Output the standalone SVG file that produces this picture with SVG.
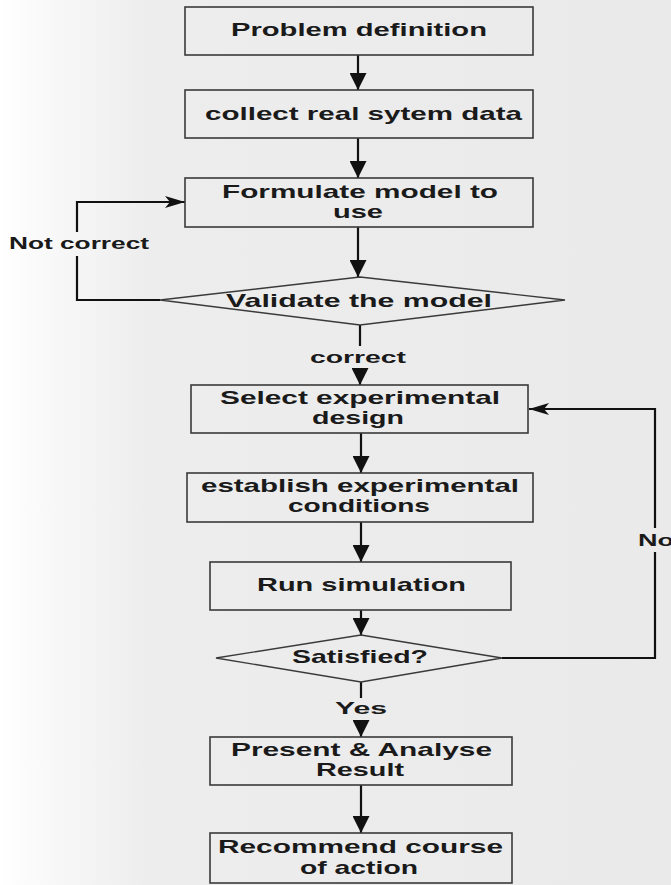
<svg xmlns="http://www.w3.org/2000/svg" width="671" height="885" viewBox="0 0 671 885">
<defs>
<linearGradient id="bg" x1="0" y1="0" x2="1" y2="0">
<stop offset="0" stop-color="#ffffff"/>
<stop offset="0.08" stop-color="#f8f8f8"/>
<stop offset="0.22" stop-color="#ededed"/>
<stop offset="1" stop-color="#eaeaea"/>
</linearGradient>
<marker id="ah" markerUnits="userSpaceOnUse" markerWidth="17" markerHeight="17" refX="17" refY="8.5" orient="auto" viewBox="0 0 17 17">
<path d="M0,0 L17,8.5 L0,17 z" fill="#111"/>
</marker>
<marker id="ahs" markerUnits="userSpaceOnUse" markerWidth="20" markerHeight="12" refX="20" refY="6" orient="auto" viewBox="0 0 20 12">
<path d="M0,0 L20,6 L0,12 L5,6 z" fill="#111"/>
</marker>
</defs>
<style>
.box{fill:none;stroke:#3a3a3a;stroke-width:1.6}
.dia{fill:none;stroke:#3a3a3a;stroke-width:1.4}
.t{font-family:"Liberation Sans",Arial,sans-serif;font-weight:bold;font-size:18.5px;fill:#1a1a1a}
.l{font-family:"Liberation Sans",Arial,sans-serif;font-weight:bold;font-size:16px;fill:#1a1a1a}
.c{fill:none;stroke:#111;stroke-width:2.2}
</style>
<rect x="0" y="0" width="671" height="885" fill="url(#bg)"/>

<g id="connectors">
<path class="c" d="M358,55 V90" marker-end="url(#ah)"/>
<path class="c" d="M358,138 V178" marker-end="url(#ah)"/>
<path class="c" d="M358,227 V277" marker-end="url(#ah)"/>
<path class="c" d="M160,300 H77 V256"/>
<path class="c" d="M77,232 V202 H185" marker-end="url(#ahs)"/>
<path class="c" d="M360,325 V346" stroke-width="1.6"/>
<path class="c" d="M360,368 V385" marker-end="url(#ah)"/>
<path class="c" d="M361,433 V473" marker-end="url(#ah)"/>
<path class="c" d="M361,522 V562" marker-end="url(#ah)"/>
<path class="c" d="M361,610 V635" marker-end="url(#ah)"/>
<path class="c" d="M502,658 H655 V552"/>
<path class="c" d="M655,528 V409 H529" marker-end="url(#ahs)"/>
<path class="c" d="M361,682 V698" stroke-width="1.6"/>
<path class="c" d="M361,720 V737" marker-end="url(#ah)"/>
<path class="c" d="M361,785 V833" marker-end="url(#ah)"/>
<text class="l" x="9" y="249" textLength="140" lengthAdjust="spacingAndGlyphs">Not correct</text>
<text class="l" x="310" y="363" textLength="96" lengthAdjust="spacingAndGlyphs">correct</text>
<text class="l" x="638" y="546" textLength="36" lengthAdjust="spacingAndGlyphs">No</text>
<text class="l" x="335" y="714" textLength="52" lengthAdjust="spacingAndGlyphs">Yes</text>
</g>

<g id="problem-definition">
<rect class="box" x="185" y="7" width="348" height="48"/>
<text class="t" x="231" y="36" textLength="256" lengthAdjust="spacingAndGlyphs">Problem definition</text>
</g>
<g id="collect-data">
<rect class="box" x="185" y="90" width="348" height="48"/>
<text class="t" x="205" y="120" textLength="317" lengthAdjust="spacingAndGlyphs">collect real sytem data</text>
</g>
<g id="formulate-model">
<rect class="box" x="185" y="178" width="348" height="49"/>
<text class="t" x="222" y="198" textLength="276" lengthAdjust="spacingAndGlyphs">Formulate model to</text>
<text class="t" x="333" y="218" textLength="50" lengthAdjust="spacingAndGlyphs">use</text>
</g>
<g id="validate-model">
<polygon class="dia" points="360,277 565,300 360,325 160,300"/>
<text class="t" x="226" y="307" textLength="266" lengthAdjust="spacingAndGlyphs">Validate the model</text>
</g>
<g id="select-design">
<rect class="box" x="191" y="385" width="337" height="48"/>
<text class="t" x="220" y="404" textLength="280" lengthAdjust="spacingAndGlyphs">Select experimental</text>
<text class="t" x="312" y="424" textLength="92" lengthAdjust="spacingAndGlyphs">design</text>
</g>
<g id="establish-conditions">
<rect class="box" x="187" y="473" width="346" height="49"/>
<text class="t" x="201" y="492" textLength="318" lengthAdjust="spacingAndGlyphs">establish experimental</text>
<text class="t" x="288" y="512" textLength="142" lengthAdjust="spacingAndGlyphs">conditions</text>
</g>
<g id="run-simulation">
<rect class="box" x="210" y="562" width="301" height="48"/>
<text class="t" x="257" y="591" textLength="209" lengthAdjust="spacingAndGlyphs">Run simulation</text>
</g>
<g id="satisfied">
<polygon class="dia" points="361,635 502,658 361,682 216,658"/>
<text class="t" x="292" y="663" textLength="136" lengthAdjust="spacingAndGlyphs">Satisfied?</text>
</g>
<g id="present-analyse">
<rect class="box" x="210" y="737" width="302" height="48"/>
<text class="t" x="231" y="756" textLength="261" lengthAdjust="spacingAndGlyphs">Present &amp; Analyse</text>
<text class="t" x="316" y="776" textLength="88" lengthAdjust="spacingAndGlyphs">Result</text>
</g>
<g id="recommend-action">
<rect class="box" x="210" y="833" width="302" height="50"/>
<text class="t" x="218" y="853" textLength="285" lengthAdjust="spacingAndGlyphs">Recommend course</text>
<text class="t" x="300" y="874" textLength="118" lengthAdjust="spacingAndGlyphs">of action</text>
</g>
</svg>
